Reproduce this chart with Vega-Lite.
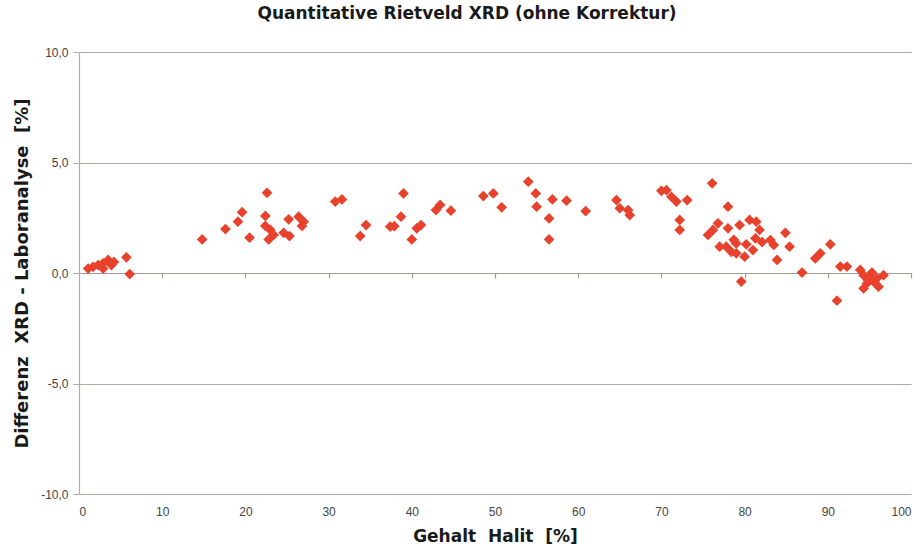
{
  "$schema": "https://vega.github.io/schema/vega-lite/v6.json",
  "width": 832,
  "height": 442,
  "autosize": "none",
  "padding": {"left": 79, "top": 52, "right": 9, "bottom": 62},
  "background": "white",
  "config": {"view": {"stroke": null}},
  "title": {"text": "Quantitative Rietveld XRD (ohne Korrektur)", "font": "DejaVu Sans", "fontSize": 17, "fontWeight": "bold", "color": "#1a1a1a", "offset": 23, "dx": -28, "anchor": "middle"},
  "data": {"values": [
    {"h":1.1,"d":0.2},{"h":1.7,"d":0.28},{"h":2.3,"d":0.36},{"h":2.9,"d":0.44},{"h":3.5,"d":0.59},{"h":3.9,"d":0.36},{"h":2.9,"d":0.2},{"h":4.2,"d":0.5},{"h":5.7,"d":0.71},{"h":6.1,"d":-0.05},
    {"h":14.8,"d":1.52},{"h":17.6,"d":1.99},{"h":19.1,"d":2.32},{"h":19.6,"d":2.75},{"h":20.5,"d":1.6},{"h":22.6,"d":3.63},{"h":22.4,"d":2.58},{"h":22.4,"d":2.13},{"h":23.0,"d":1.95},{"h":22.8,"d":1.52},{"h":23.4,"d":1.72},{"h":24.6,"d":1.82},{"h":25.3,"d":1.67},{"h":25.2,"d":2.43},{"h":26.4,"d":2.55},{"h":27.0,"d":2.32},{"h":26.8,"d":2.13},
    {"h":30.8,"d":3.23},{"h":31.6,"d":3.33},{"h":33.8,"d":1.67},{"h":34.5,"d":2.17},{"h":37.4,"d":2.1},{"h":37.9,"d":2.12},{"h":38.7,"d":2.55},{"h":39.0,"d":3.6},{"h":40.0,"d":1.52},{"h":40.6,"d":2.02},{"h":41.1,"d":2.17},{"h":42.9,"d":2.85},{"h":43.4,"d":3.08},{"h":44.7,"d":2.82},
    {"h":48.6,"d":3.48},{"h":49.8,"d":3.6},{"h":50.8,"d":2.97},{"h":54.0,"d":4.13},{"h":54.9,"d":3.6},{"h":55.0,"d":3.0},{"h":56.9,"d":3.33},{"h":56.5,"d":2.47},{"h":56.5,"d":1.52},{"h":58.6,"d":3.27},{"h":60.9,"d":2.8},
    {"h":64.6,"d":3.3},{"h":65.0,"d":2.93},{"h":66.0,"d":2.85},{"h":66.2,"d":2.62},{"h":70.0,"d":3.72},{"h":70.6,"d":3.75},{"h":71.2,"d":3.45},{"h":71.8,"d":3.23},{"h":73.1,"d":3.3},{"h":72.2,"d":2.4},{"h":72.2,"d":1.95},
    {"h":76.1,"d":4.06},{"h":78.0,"d":3.0},{"h":76.8,"d":2.25},{"h":76.2,"d":1.95},{"h":75.6,"d":1.72},{"h":78.0,"d":2.02},{"h":77.0,"d":1.19},{"h":77.8,"d":1.19},{"h":78.4,"d":0.96},{"h":79.0,"d":1.34},{"h":79.4,"d":2.17},{"h":80.0,"d":0.74},{"h":79.0,"d":0.89},{"h":80.6,"d":2.4},{"h":81.4,"d":2.32},{"h":81.8,"d":1.95},{"h":81.3,"d":1.57},{"h":81.0,"d":1.04},{"h":79.6,"d":-0.39},{"h":80.2,"d":1.3},{"h":78.7,"d":1.5},{"h":82.1,"d":1.4},
    {"h":83.1,"d":1.49},{"h":83.5,"d":1.27},{"h":83.9,"d":0.59},{"h":84.9,"d":1.82},{"h":85.4,"d":1.19},{"h":86.9,"d":0.02},{"h":88.5,"d":0.66},{"h":89.1,"d":0.89},{"h":90.3,"d":1.3},{"h":91.5,"d":0.29},{"h":92.3,"d":0.29},{"h":91.1,"d":-1.25},
    {"h":94.3,"d":-0.1},{"h":95.1,"d":-0.17},{"h":94.7,"d":-0.47},{"h":95.5,"d":-0.39},{"h":94.3,"d":-0.7},{"h":96.1,"d":-0.62},{"h":96.7,"d":-0.1},{"h":93.9,"d":0.14},{"h":95.3,"d":0.02},{"h":95.9,"d":-0.24},{"h":94.8,"d":-0.3}
  ]},
  "layer": [
    {
      "mark": {"type": "point", "shape": "diamond", "filled": true, "size": 115, "color": "#e8412c", "opacity": 1, "strokeWidth": 0},
      "encoding": {
        "x": {"field": "h", "type": "quantitative", "scale": {"domain": [0, 100], "nice": false, "zero": false},
          "axis": {"orient": "bottom", "values": [0,10,20,30,40,50,60,70,80,90,100], "grid": false, "ticks": false, "domain": false,
            "labelFont": "Liberation Sans", "labelFontSize": 12, "labelColor": "#444444", "labelPadding": 12,
            "title": "Gehalt\u00a0 Halit\u00a0 [%]", "titleFont": "DejaVu Sans", "titleFontSize": 17, "titleFontWeight": "bold", "titleColor": "#1a1a1a", "titlePadding": 11}},
        "y": {"field": "d", "type": "quantitative", "scale": {"domain": [-10, 10], "nice": false},
          "axis": {"orient": "left", "values": [-10,-5,0,5,10], "labelExpr": "replace(replace(format(datum.value, '.1f'), '.', ','), '\u2212', '-')",
            "grid": true, "gridColor": "#b3aaa7", "gridWidth": 1.2, "domainColor": "#b3aaa7", "domainWidth": 1.2, "tickColor": "#b3aaa7", "tickSize": 6,
            "labelFont": "Liberation Sans", "labelFontSize": 12, "labelColor": "#444444", "labelPadding": 5,
            "title": "Differenz\u00a0 XRD - Laboranalyse\u00a0 [%]", "titleFont": "DejaVu Sans", "titleFontSize": 18, "titleFontWeight": "bold", "titleColor": "#1a1a1a", "titlePadding": 9}}
      }
    },
    {
      "mark": {"type": "point", "opacity": 0},
      "encoding": {
        "x": {"field": "h", "type": "quantitative",
          "axis": {"orient": "bottom", "offset": -221, "values": [10,20,30,40,50,60,70,80,90,100], "labels": false, "title": null, "grid": false,
            "domain": true, "domainColor": "#a39995", "domainWidth": 1.2, "ticks": true, "tickColor": "#a39995", "tickSize": 5, "tickWidth": 1.2}}
      }
    }
  ],
  "resolve": {"axis": {"x": "independent"}}
}
